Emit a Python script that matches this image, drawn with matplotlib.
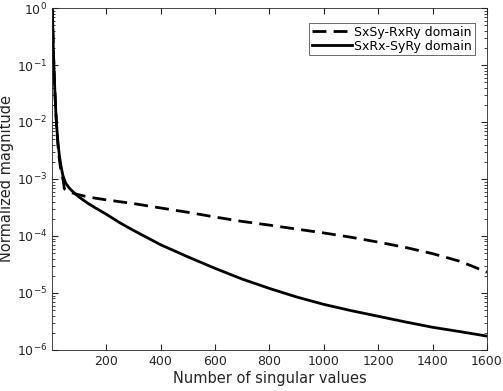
import matplotlib.pyplot as plt
import numpy as np

# valores (aproximados)
n_sxsy = [1, 3, 5, 8, 10, 14, 18, 22, 27, 32, 38, 42, 45, 48, 55, 70, 90, 120, 160, 200, 300, 400,
          500, 600, 700, 800, 900, 1000, 1100, 1200, 1300, 1400, 1500, 1550, 1600]
mag_sxsy = [1.0, 0.45, 0.18, 0.07, 0.04, 0.015, 7e-3, 3.8e-3, 2.2e-3, 1.5e-3, 1.1e-3, 9e-4, 6.8e-4,
            6.6e-4, 6.3e-4, 5.8e-4, 5.4e-4, 5.0e-4, 4.6e-4, 4.3e-4, 3.7e-4, 3.1e-4,
            2.6e-4, 2.15e-4, 1.8e-4, 1.55e-4, 1.32e-4, 1.13e-4, 9.5e-5, 7.8e-5, 6.3e-5, 4.9e-5, 3.6e-5,
            2.9e-5, 2.3e-5]

n_sxrx = [1, 3, 5, 8, 10, 14, 18, 22, 27, 32, 40, 50, 65, 80, 100, 130, 160, 200, 250, 300, 400,
          500, 600, 700, 800, 900, 1000, 1100, 1200, 1300, 1400, 1500, 1600]
mag_sxrx = [1.0, 0.45, 0.18, 0.07, 0.04, 0.015, 7.5e-3, 4.3e-3, 2.6e-3, 1.8e-3, 1.15e-3, 8.5e-4,
            6.8e-4, 5.8e-4, 4.8e-4, 3.8e-4, 3.1e-4, 2.4e-4, 1.7e-4, 1.25e-4, 7.0e-5,
            4.3e-5, 2.7e-5, 1.75e-5, 1.2e-5, 8.5e-6, 6.3e-6, 4.9e-6, 3.9e-6, 3.1e-6, 2.5e-6, 2.1e-6, 1.75e-6]

cor_eixo = '#262626'
plt.rcParams['font.family'] = 'DejaVu Sans'

fig = plt.figure(figsize=(5.03, 3.91), dpi=100)
ax = fig.add_axes([0.1034, 0.105, 0.8646, 0.8745])

ax.semilogy(n_sxsy, mag_sxsy, '--', color='black', linewidth=2, dashes=(5, 2.6),
            label='SxSy-RxRy domain')
ax.semilogy(n_sxrx, mag_sxrx, '-', color='black', linewidth=2, label='SxRx-SyRy domain')

ax.set_xlim(0, 1600)
ax.set_ylim(1e-6, 1)
ax.set_xticks([200, 400, 600, 800, 1000, 1200, 1400, 1600])
ax.set_yticks([1e-6, 1e-5, 1e-4, 1e-3, 1e-2, 1e-1, 1e0])
ax.tick_params(which='both', direction='in', top=True, right=True, colors=cor_eixo,
               labelsize=9)
ax.tick_params(which='major', length=4)
ax.tick_params(which='minor', length=2)
for s in ax.spines.values():
    s.set_color(cor_eixo)
    s.set_linewidth(0.6)

ax.set_xlabel('Number of singular values', fontsize=10.5, color=cor_eixo, labelpad=2)
ax.set_ylabel('Normalized magnitude', fontsize=10.5, color=cor_eixo)
ax.yaxis.set_label_coords(-0.087, 0.5)

leg = ax.legend(loc='upper right', bbox_to_anchor=(0.972, 0.956), fontsize=9, frameon=True,
                fancybox=False, edgecolor=cor_eixo, handlelength=3.2, handletextpad=0.2,
                borderpad=0.2, labelspacing=0.1, borderaxespad=0)
leg.get_frame().set_linewidth(0.6)

plt.savefig('out.png', dpi=100)
